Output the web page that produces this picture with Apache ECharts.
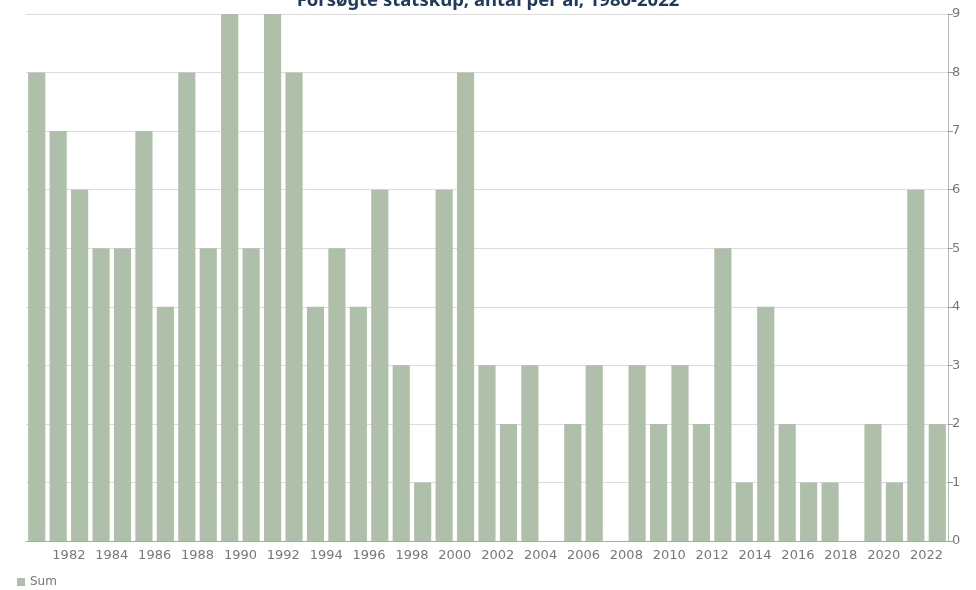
<!DOCTYPE html>
<html>
<head>
<meta charset="utf-8">
<script src="https://cdn.jsdelivr.net/npm/echarts@6/dist/echarts.min.js"></script>
<style>
  html, body { margin: 0; padding: 0; background: #fff; }
  #chart { width: 976px; height: 590px; }
</style>
</head>
<body>
<div id="chart"></div>
<script>
// years 1980-2022
const years = ['1980','1981','1982','1983','1984','1985','1986','1987','1988','1989',
  '1990','1991','1992','1993','1994','1995','1996','1997','1998','1999',
  '2000','2001','2002','2003','2004','2005','2006','2007','2008','2009',
  '2010','2011','2012','2013','2014','2015','2016','2017','2018','2019',
  '2020','2021','2022']
// attempted coups per year
const sumValues = [8,7,6,5,5,7,4,8,5,9,
  5,9,8,4,5,4,6,3,1,6,
  8,3,2,3,0,2,3,0,3,2,
  3,2,5,1,4,2,1,1,0,2,
  1,6,2]

const gridLeft = 26
const gridRight = 28
const band = (976 - gridLeft - gridRight) / years.length

let myChart = echarts.init(document.getElementById('chart'))

let options = {
  animation: false,
  title: {
    text: 'Forsøgte statskup, antal per år, 1980-2022',
    left: 'center',
    top: -14,
    textStyle: {
      color: '#1f3a5f',
      fontFamily: 'Noto Sans',
      fontWeight: 'bold',
      fontSize: 18.5
    }
  },
  legend: {
    left: 12,
    bottom: -3,
    itemWidth: 8,
    itemHeight: 8,
    icon: 'rect',
    textStyle: { color: '#777', fontSize: 12, fontFamily: 'DejaVu Sans' },
    data: ['Sum']
  },
  grid: { left: gridLeft, right: gridRight, top: 14, bottom: 49 },
  xAxis: {
    type: 'category',
    data: years,
    axisLine: { lineStyle: { color: '#aaa' } },
    axisTick: {
      lineStyle: { color: '#999' },
      length: 5,
      interval: function (i) { return i % 2 === 0 }
    },
    axisLabel: {
      color: '#777',
      fontSize: 13,
      fontFamily: 'DejaVu Sans',
      margin: 8,
      // put the label on the tick at the left edge of the year
      padding: [0, band, 0, 0],
      interval: function (i) { return i > 0 && i % 2 === 0 }
    }
  },
  yAxis: {
    type: 'value',
    position: 'right',
    min: 0,
    max: 9,
    interval: 1,
    axisLine: { show: true, lineStyle: { color: '#bbb' } },
    axisTick: { show: true, length: 5, lineStyle: { color: '#999' } },
    axisLabel: { color: '#777', fontSize: 13, fontFamily: 'DejaVu Sans', margin: 4 },
    splitLine: { lineStyle: { color: '#dcdcdc' } }
  },
  series: [
    {
      name: 'Sum',
      type: 'bar',
      data: sumValues,
      barCategoryGap: '20%',
      itemStyle: { color: '#afc0aa' }
    }
  ]
}

myChart.setOption(options)
</script>
</body>
</html>
